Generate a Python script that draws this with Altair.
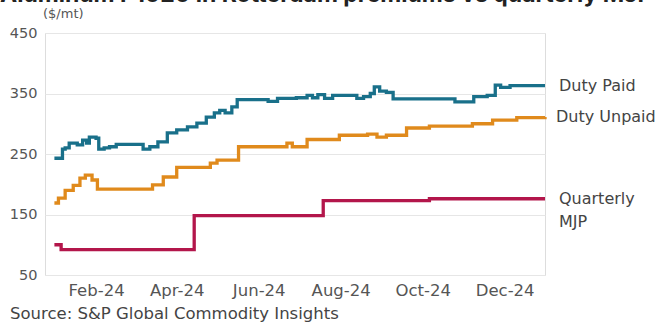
import altair as alt
import pandas as pd

# ---- data ----
paid_dates = ["2024-01-01", "2024-01-07", "2024-01-09", "2024-01-12", "2024-01-18", "2024-01-22",
              "2024-01-25", "2024-01-27", "2024-02-01", "2024-02-03", "2024-02-07", "2024-02-11",
              "2024-02-16", "2024-03-03", "2024-03-07", "2024-03-12", "2024-03-18", "2024-03-25",
              "2024-04-01", "2024-04-09", "2024-04-16", "2024-04-23", "2024-04-29", "2024-05-03",
              "2024-05-07", "2024-05-12", "2024-05-16", "2024-06-08", "2024-06-15", "2024-06-29",
              "2024-07-07", "2024-07-11", "2024-07-15", "2024-07-20", "2024-07-26", "2024-08-13",
              "2024-08-18", "2024-08-23", "2024-08-26", "2024-08-30", "2024-09-04", "2024-09-09",
              "2024-10-25", "2024-11-08", "2024-11-18", "2024-11-24", "2024-11-28", "2024-12-05",
              "2024-12-31"]
paid_values = [243, 258, 260, 268, 265, 273,
               268, 278, 276, 258, 260, 262,
               266, 266, 258, 262, 270, 285,
               290, 295, 301, 311, 318, 322,
               318, 328, 340, 337, 342, 343,
               347, 343, 348, 342, 347, 342,
               345, 350, 361, 354, 352, 341,
               336, 345, 347, 364, 360, 363,
               363]

unpaid_dates = ["2024-01-01", "2024-01-04", "2024-01-09", "2024-01-15", "2024-01-20", "2024-01-24",
                "2024-01-29", "2024-02-02", "2024-03-14", "2024-03-22", "2024-04-01", "2024-04-26",
                "2024-05-01", "2024-05-17", "2024-06-22", "2024-06-26", "2024-07-07", "2024-07-31",
                "2024-08-21", "2024-08-28", "2024-09-04", "2024-09-19", "2024-10-06", "2024-11-07",
                "2024-11-22", "2024-12-10", "2024-12-31"]
unpaid_values = [169, 177, 190, 198, 210, 215,
                 207, 192, 199, 212, 228, 235,
                 240, 262, 268, 262, 274, 281,
                 283, 278, 281, 293, 296, 300,
                 306, 310, 311]

mjp_dates = ["2024-01-01", "2024-01-06", "2024-04-14", "2024-07-19", "2024-10-06", "2024-12-31"]
mjp_values = [100, 92, 148, 173, 176, 176]

series_names = ["Duty Paid", "Duty Unpaid", "Quarterly MJP"]
series_colors = ["#19708a", "#e08a1c", "#b3164b"]

y_ticks = [50, 150, 250, 350, 450]
x_tick_months = [2, 4, 6, 8, 10, 12]

title_text = "Aluminum P1020 in Rotterdam premiums vs quarterly MJP"
unit_text = "($/mt)"
source_text = "Source: S&P Global Commodity Insights"

FONT = "DejaVu Sans"

rows = []
for name, ds, vs in zip(series_names,
                        [paid_dates, unpaid_dates, mjp_dates],
                        [paid_values, unpaid_values, mjp_values]):
    for d, v in zip(ds, vs):
        rows.append({"date": d + "T00:00:00", "value": v, "series": name})
df = pd.DataFrame(rows)

W, H = 500, 242

x_enc = alt.X(
    "date:T",
    scale=alt.Scale(domain=[alt.DateTime(year=2023, month=12, date=25),
                            alt.DateTime(year=2024, month=12, date=31)]),
    axis=alt.Axis(
        values=[alt.DateTime(year=2024, month=m, date=1) for m in x_tick_months],
        format="%b-%y", title=None, grid=False, domain=False, ticks=False,
        labelFont=FONT, labelFontSize=16.5, labelColor="#555555", labelPadding=7,
    ),
)
y_enc = alt.Y(
    "value:Q",
    scale=alt.Scale(domain=[50, 450], nice=False),
    axis=alt.Axis(
        values=y_ticks, title=None, domain=False, ticks=False,
        gridColor="#e6e6e6", gridWidth=1,
        labelFont=FONT, labelFontSize=14.5, labelColor="#555555", labelPadding=8,
    ),
)

lines = alt.Chart(df).mark_line(interpolate="step-after", strokeWidth=3.3).encode(
    x=x_enc,
    y=y_enc,
    color=alt.Color("series:N", scale=alt.Scale(domain=series_names, range=series_colors),
                    legend=None),
)


def label(text, x, y, size=16, color="#444444", weight="normal", align="left", font=FONT):
    return alt.Chart(pd.DataFrame({"t": [text]})).mark_text(
        align=align, baseline="middle", font=font, fontSize=size, color=color,
        fontWeight=weight,
    ).encode(x=alt.value(x), y=alt.value(y), text="t:N")


labels = [
    label("Duty Paid", 514, 53),
    label("Duty Unpaid", 511, 84),
    label("Quarterly", 514, 166),
    label("MJP", 514, 189),
    label(unit_text, -2, -19, size=13, color="#555555"),
    label(source_text, -35, 281, size=16.5),
    alt.Chart(pd.DataFrame({"t": [title_text]})).mark_text(
        align="left", baseline="alphabetic", font="Inter", fontSize=23, fontWeight="bold",
        color="#222222",
    ).encode(x=alt.value(-45), y=alt.value(-31), text="t:N"),
]

chart = alt.layer(lines, *labels).properties(
    width=W, height=H,
    padding={"left": 45, "top": 33, "right": 114, "bottom": 50},
    autosize=alt.AutoSizeParams(type="none"),
).configure_view(stroke=None).configure(background="white")

chart.save("out.html", embed_options={"renderer": "svg", "actions": False})
